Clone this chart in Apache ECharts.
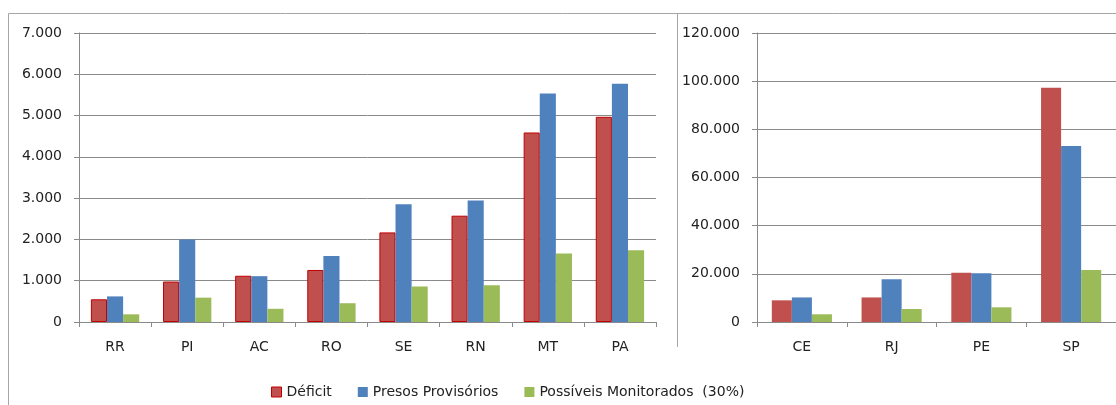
<!DOCTYPE html>
<html>
<head>
<meta charset="utf-8">
<script src="https://cdn.jsdelivr.net/npm/echarts@6/dist/echarts.min.js"></script>
<style>
  html, body { margin: 0; padding: 0; background: #fff; }
  #main { width: 1116px; height: 405px; }
</style>
</head>
<body>
<div id="main"></div>
<script>
// estados com deficit menor (escala ate 7.000)
var statesSmall = ['RR', 'PI', 'AC', 'RO', 'SE', 'RN', 'MT', 'PA'];
var deficitSmall = [550, 980, 1120, 1260, 2170, 2575, 4590, 4970];
var presosSmall = [620, 2000, 1110, 1600, 2850, 2945, 5535, 5770];
var monitSmall = [186, 590, 320, 455, 860, 890, 1660, 1735];

// estados com deficit maior (escala ate 120.000)
var statesBig = ['CE', 'RJ', 'PE', 'SP'];
var deficitBig = [9000, 10200, 20400, 97300];
var presosBig = [10200, 17700, 20200, 73100];
var monitBig = [3200, 5400, 6100, 21600];

var seriesNames = ['Déficit', 'Presos Provisórios', 'Possíveis Monitorados  (30%)'];
var colors = ['#C0504D', '#4F81BD', '#9BBB59'];

var myChart = echarts.init(document.getElementById('main'));

var font = 'DejaVu Sans';
var gridColor = '#8a8a8a';

function fmt(v) {
    return String(v).replace(/\B(?=(\d{3})+(?!\d))/g, '.');
}

function yAxis(idx, max, step) {
    return {
        type: 'value', gridIndex: idx, min: 0, max: max, interval: step,
        axisLine: { show: true, lineStyle: { color: gridColor, width: 1 } },
        axisTick: { show: true, length: 5, lineStyle: { color: gridColor } },
        splitLine: { lineStyle: { color: gridColor, width: 1 } },
        axisLabel: { formatter: fmt, margin: 17, fontFamily: font, fontSize: 14, color: '#222' }
    };
}

function xAxis(idx, cats) {
    return {
        type: 'category', gridIndex: idx, data: cats,
        axisLine: { lineStyle: { color: gridColor, width: 1 } },
        axisTick: { show: true, length: 5, lineStyle: { color: gridColor } },
        axisLabel: { margin: 18, fontFamily: font, fontSize: 14, color: '#222' }
    };
}

function bars(idx, data, k, border) {
    var s = {
        name: seriesNames[k], type: 'bar', xAxisIndex: idx, yAxisIndex: idx,
        data: data, barGap: 0, barCategoryGap: '33%',
        itemStyle: { color: colors[k] }
    };
    if (border) {
        s.itemStyle.borderColor = '#C00000';
        s.itemStyle.borderWidth = 1;
    }
    return s;
}

option = {
    backgroundColor: '#fff',
    animation: false,
    grid: [
        { left: 79, top: 33, width: 577, height: 289 },
        { left: 757, top: 33, width: 362, height: 289 }
    ],
    xAxis: [xAxis(0, statesSmall), xAxis(1, statesBig)],
    yAxis: [yAxis(0, 7000, 1000), yAxis(1, 120000, 20000)],
    legend: {
        left: 266, top: 380,
        icon: 'rect', itemWidth: 10, itemHeight: 10, itemGap: 26,
        textStyle: { fontFamily: font, fontSize: 14, color: '#222' },
        data: [
            { name: seriesNames[0], itemStyle: { borderColor: '#C00000', borderWidth: 1 } },
            seriesNames[1],
            seriesNames[2]
        ]
    },
    graphic: [
        { type: 'polyline', shape: { points: [[8.5, 405], [8.5, 13.5], [1116, 13.5]] },
          style: { stroke: '#a6a6a6', lineWidth: 1, fill: null }, silent: true },
        { type: 'line', shape: { x1: 677.5, y1: 13, x2: 677.5, y2: 347 },
          style: { stroke: '#a6a6a6', lineWidth: 1 }, silent: true }
    ],
    series: [
        bars(0, deficitSmall, 0, true),
        bars(0, presosSmall, 1),
        bars(0, monitSmall, 2),
        bars(1, deficitBig, 0),
        bars(1, presosBig, 1),
        bars(1, monitBig, 2)
    ]
};
myChart.setOption(option);
</script>
</body>
</html>
